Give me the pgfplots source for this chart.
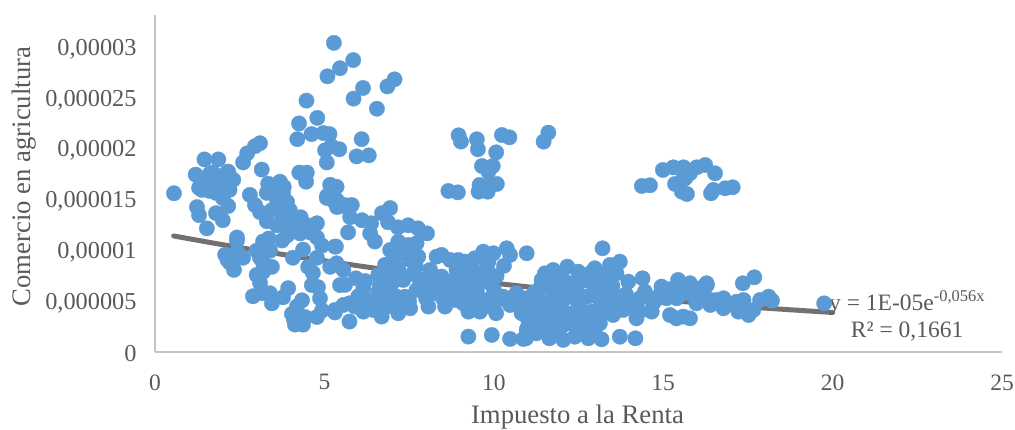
\documentclass[border=0pt]{standalone}
\usepackage{fontspec}
\setmainfont{Liberation Serif}
\usepackage{pgfplots}
\usepackage{pgfplotstable}
\pgfplotsset{compat=1.18}
\definecolor{ptblue}{HTML}{5B9BD5}
\definecolor{trend}{HTML}{757070}
\definecolor{txt}{HTML}{595959}
\definecolor{axgray}{HTML}{C4C4C4}

% y in units of 1e-6
\pgfplotstableread{
x y
5.28 30.5
5.85 28.8
5.46 28.0
5.09 27.2
7.07 26.9
6.86 26.2
6.14 26.05
5.86 25.0
6.55 24.0
4.47 24.8
4.79 23.1
4.25 22.55
4.20 21.0
4.62 21.5
4.97 21.6
5.15 21.5
6.10 21.0
5.44 20.0
5.02 19.9
5.21 20.3
5.95 19.3
6.31 19.4
5.07 18.7
3.15 18.0
3.10 20.6
2.95 20.3
2.72 19.6
2.60 18.7
1.87 19.0
1.46 19.0
1.20 17.5
1.62 17.6
2.16 17.8
2.31 17.0
1.75 17.2
1.55 17.0
1.30 16.2
1.85 16.8
2.05 17.5
1.70 17.7
0.56 15.66
3.69 16.8
3.34 16.6
4.48 17.7
4.26 17.7
4.46 16.8
5.17 16.5
5.36 16.3
2.80 15.5
1.38 16.0
2.00 15.2
2.16 14.4
1.24 14.3
1.30 13.5
1.53 12.2
1.80 13.7
2.00 13.0
2.95 14.5
3.10 13.8
3.45 14.0
3.30 15.7
3.48 16.2
3.78 15.7
3.98 14.0
3.78 13.3
3.90 12.3
4.13 12.2
4.78 12.7
4.57 11.8
4.78 11.3
4.93 10.5
5.31 10.4
4.28 11.7
3.90 11.5
3.75 11.0
2.42 11.3
2.42 11.0
3.36 11.2
3.19 10.9
3.00 10.0
2.60 9.3
2.42 9.9
2.07 9.6
2.21 8.8
2.33 8.1
2.14 9.1
3.10 9.3
3.40 10.0
3.45 8.4
3.19 8.8
3.00 7.6
3.19 7.9
3.10 6.8
2.89 5.5
3.16 5.8
3.45 4.8
3.39 5.8
3.93 6.3
3.78 5.4
4.34 5.1
4.19 4.5
4.04 3.75
4.13 2.7
4.37 2.7
4.43 3.45
4.10 3.2
4.78 3.45
4.93 4.1
5.31 3.9
4.87 5.3
4.81 6.4
4.63 6.6
4.66 7.8
4.52 8.4
4.78 9.3
4.37 10.1
4.07 9.3
5.17 8.4
5.46 6.6
5.81 14.5
5.76 13.3
6.11 13.0
6.38 12.7
6.94 14.2
6.70 13.7
6.88 12.8
7.17 12.3
7.47 12.5
7.76 12.2
8.03 11.7
5.70 11.8
6.35 11.7
6.49 10.9
5.34 10.4
7.18 10.89
7.72 10.73
7.48 10.56
6.94 10.07
7.28 9.74
7.77 9.41
7.53 9.08
7.03 9.25
6.79 8.59
7.70 8.42
7.18 8.26
6.59 7.60
8.12 8.10
8.46 9.58
8.31 9.41
8.71 9.08
8.95 9.08
9.15 8.92
9.44 9.25
9.69 9.90
9.99 9.74
10.38 10.23
10.48 9.58
10.97 9.74
9.84 8.92
10.08 7.50
8.90 8.10
8.46 7.44
9.40 8.10
9.69 7.77
9.05 7.44
9.79 6.95
5.56 8.10
5.36 8.75
5.61 6.62
5.93 7.27
6.15 6.29
6.35 5.13
6.64 6.62
6.89 6.12
7.13 5.46
6.74 5.13
7.38 5.46
7.72 6.12
8.12 6.29
8.31 5.79
8.56 4.48
8.07 4.48
8.85 5.13
9.25 3.98
9.59 3.98
10.07 3.82
10.48 4.64
10.82 3.82
11.07 4.48
10.28 5.46
9.79 5.13
9.20 6.12
8.71 6.45
7.53 4.31
7.18 3.82
6.69 3.49
6.44 4.15
6.15 3.98
5.74 3.00
5.56 4.64
5.31 4.15
5.90 4.48
9.25 1.52
9.94 1.68
10.48 1.29
10.87 1.29
11.07 2.01
6.94 7.44
7.33 7.11
7.82 7.11
8.51 6.12
9.40 5.46
10.67 5.13
6.25 5.13
7.13 4.48
6.84 4.48
5.74 4.80
9.50 7.10
10.67 5.80
10.10 5.10
9.10 4.80
13.21 10.23
11.41 7.11
11.51 7.76
11.75 8.09
12.17 8.42
12.49 7.93
12.25 6.78
12.98 8.26
13.43 8.59
13.72 8.91
13.62 7.76
13.97 6.94
14.39 7.27
13.33 7.43
13.03 7.93
12.84 7.76
11.95 6.45
14.46 5.95
14.95 6.45
15.44 7.11
15.79 6.78
16.28 6.78
16.08 6.28
15.59 5.79
15.10 5.30
14.90 5.63
16.57 5.13
15.98 4.80
15.20 3.65
15.39 3.32
15.79 3.32
15.59 3.49
14.66 3.98
14.21 3.32
14.12 4.64
13.82 4.15
13.52 3.65
13.33 4.47
13.72 1.51
14.18 1.35
13.18 1.25
12.79 1.35
12.39 1.51
12.05 1.19
11.64 1.35
11.26 1.84
10.95 1.35
10.97 2.17
11.85 2.17
12.54 2.17
12.98 2.17
12.89 3.98
12.34 3.82
11.95 3.98
11.46 3.82
11.07 4.15
10.97 5.30
11.31 5.30
11.66 4.80
12.05 5.13
12.49 4.80
13.13 5.13
13.62 5.13
13.92 4.47
12.74 3.16
12.25 2.83
11.66 2.99
11.16 2.66
13.13 2.83
12.69 5.46
11.75 5.63
14.31 5.30
14.70 4.80
11.36 6.28
12.44 6.45
16.29 6.61
16.09 5.79
16.39 4.64
16.78 5.30
16.78 4.31
17.35 6.78
17.69 7.37
17.17 4.97
17.22 3.98
17.52 3.65
17.66 4.15
17.37 5.13
17.86 5.13
18.11 5.46
18.21 5.07
19.75 4.80
8.96 21.38
9.03 20.76
9.50 20.99
9.53 20.00
10.24 21.41
10.46 21.18
10.07 19.70
9.65 18.35
9.97 18.35
9.84 17.80
9.58 16.48
10.09 16.58
9.84 16.48
9.55 15.82
9.82 15.82
8.66 15.89
8.94 15.75
11.61 21.64
11.47 20.76
14.99 17.96
15.30 18.22
15.60 18.22
15.99 18.22
16.24 18.45
16.53 17.63
15.79 17.63
15.65 17.14
15.35 16.58
15.55 15.82
15.70 15.59
16.41 15.66
16.48 15.99
16.83 16.15
17.05 16.25
14.37 16.38
14.61 16.45
15.60 17.63
1.50 17.0
1.70 16.5
1.90 16.2
2.10 16.6
1.60 15.9
1.80 15.7
2.00 15.9
2.20 16.0
1.45 16.2
1.95 17.2
5.08 15.4
5.36 15.0
5.60 14.5
5.07 15.2
5.37 14.3
5.20 15.5
5.30 14.8
5.50 14.4
9.00 6.00
9.50 6.00
10.00 6.20
9.30 7.00
8.80 7.00
9.80 8.30
10.30 8.50
9.00 8.50
8.00 7.00
7.60 7.70
8.30 6.80
7.00 6.80
6.60 6.00
6.20 7.00
6.00 5.50
6.60 4.80
7.50 5.00
8.00 5.30
8.50 5.30
9.40 4.50
9.90 4.50
10.50 5.30
10.90 5.00
11.20 4.90
11.00 3.30
11.50 3.00
11.40 4.70
12.00 4.40
12.60 4.20
13.20 3.80
12.50 3.40
11.80 3.40
11.20 3.50
12.20 3.30
13.00 3.40
12.80 5.50
12.30 5.80
11.80 6.30
11.20 5.90
11.70 7.20
12.80 7.00
13.50 6.50
13.20 6.60
12.00 7.50
12.50 7.00
13.00 6.00
13.50 5.80
13.90 5.70
14.30 4.00
14.80 5.20
15.40 5.30
15.90 5.50
16.30 5.30
15.60 6.40
15.20 6.20
11.00 2.40
11.40 2.20
12.00 2.50
12.60 2.60
12.90 2.60
3.60 15.00
3.90 14.80
4.00 13.00
3.60 12.50
3.30 12.90
4.10 12.80
3.60 14.30
4.30 13.30
4.50 12.50
3.80 16.30
}\puntos

\pgfplotstableread{
x y
0.55 11.45
2.5 10.3
5 9.0
7.5 7.8
10 6.8
12.5 5.9
15 5.15
17.5 4.45
20 3.9
}\tendencia

\begin{document}
\begin{tikzpicture}
\path[use as bounding box] (-155pt,-78pt) rectangle (860pt,352pt);
\begin{axis}[
    at={(0,0)},
    anchor=south west,
    scale only axis,
    width=847pt,
    height=337pt,
    xmin=0, xmax=25,
    ymin=0, ymax=3.325e-5,
    axis x line*=bottom,
    axis y line*=left,
    axis line style={-, draw=axgray, line width=1.6pt},
    major tick length=0pt,
    xtick={0,5,10,15,20,25},
    xticklabels={0,5,10,15,20,25},
    ytick={0,5e-6,1e-5,1.5e-5,2e-5,2.5e-5,3e-5},
    yticklabels={0,{0,000005},{0,00001},{0,000015},{0,00002},{0,000025},{0,00003}},
    scaled y ticks=false,
    xticklabel style={font=\fontsize{23.5}{27}\selectfont, text=txt, yshift=-19pt},
    yticklabel style={font=\fontsize{24.3}{27}\selectfont, text=txt, xshift=-15pt, yshift=-1.5pt},
    xlabel={Impuesto a la Renta},
    ylabel={Comercio en agricultura},
    label style={font=\fontsize{26.7}{30}\selectfont, text=txt},
    xlabel style={at={(axis description cs:0.5,0)}, anchor=center, inner sep=0pt, yshift=-65.5pt, xshift=-1pt},
    ylabel style={at={(axis description cs:0,0.5)}, anchor=center, rotate=0, yshift=131pt, xshift=7pt},
    clip=false,
]
\addplot[only marks, mark=*, mark size=7.7pt, mark options={draw=ptblue, fill=ptblue, line width=0.3pt}]
    table[x=x, y expr=\thisrow{y}*1e-6] {\puntos};
\addplot[trend, line width=5pt, smooth, no markers, line cap=round]
    table[x=x, y expr=\thisrow{y}*1e-6] {\tendencia};
\node[text=txt, font=\fontsize{23.5}{27}\selectfont, anchor=center] at (axis cs:22.2,4.8e-6) {y = 1E-05e\textsuperscript{-0,056x}};
\node[text=txt, font=\fontsize{23.5}{27}\selectfont, anchor=center] at (axis cs:22.2,2.05e-6) {R² = 0,1661};
\end{axis}
\end{tikzpicture}
\end{document}
